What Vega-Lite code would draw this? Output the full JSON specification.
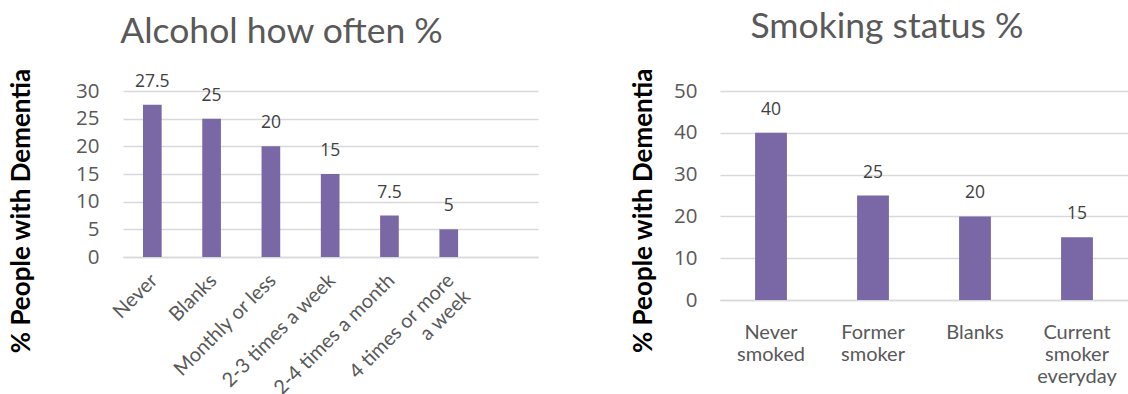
{
  "$schema": "https://vega.github.io/schema/vega-lite/v6.json",
  "background": "white",
  "padding": {"left": 8, "top": 9, "right": 0, "bottom": 0},
  "spacing": 92,
  "config": {
    "view": {"stroke": null},
    "font": "Lato",
    "title": {"font": "Lato", "fontSize": 35.5, "fontWeight": "normal", "color": "#595959", "frame": "group", "anchor": "middle", "baseline": "alphabetic"},
    "axis": {"labelFont": "Lato", "titleFont": "Lato", "labelColor": "#595959", "titleColor": "#000000"}
  },
  "datasets": {
    "alcohol": [
      {"category": "Never", "pct": 27.5},
      {"category": "Blanks", "pct": 25},
      {"category": "Monthly or less", "pct": 20},
      {"category": "2-3 times a week", "pct": 15},
      {"category": "2-4 times a month", "pct": 7.5},
      {"category": "4 times or more a week", "pct": 5}
    ],
    "smoking": [
      {"category": "Never smoked", "pct": 40},
      {"category": "Former smoker", "pct": 25},
      {"category": "Blanks", "pct": 20},
      {"category": "Current smoker everyday", "pct": 15}
    ]
  },
  "hconcat": [
    {
      "title": {"text": "Alcohol how often %", "dx": -49, "offset": 17.5},
      "width": 415,
      "height": 166,
      "data": {"name": "alcohol"},
      "encoding": {
        "x": {
          "field": "category",
          "type": "nominal",
          "sort": null,
          "scale": {"paddingInner": 0.685, "paddingOuter": 0.8425, "align": 0.2},
          "axis": {
            "title": null,
            "labelAngle": -45,
            "labelFontSize": 20,
            "labelPadding": 13,
            "labelOffset": -5,
            "labelLineHeight": 23,
            "ticks": false,
            "domainColor": "#D9D9D9",
            "domainWidth": 1.5,
            "labelExpr": "datum.label == '4 times or more a week' ? ['4 times or more', 'a week'] : datum.label"
          }
        },
        "y": {
          "field": "pct",
          "type": "quantitative",
          "scale": {"domain": [0, 30], "nice": false},
          "axis": {
            "title": "% People with Dementia",
            "titleFontSize": 26,
            "titleFontWeight": "bold",
            "titlePadding": 41,
            "titleY": 119.5,
            "values": [0, 5, 10, 15, 20, 25, 30],
            "labelFont": "Open Sans",
            "labelFontSize": 20.5,
            "labelPadding": 24,
            "ticks": false,
            "domain": false,
            "gridColor": "#D9D9D9",
            "gridWidth": 1.5
          }
        }
      },
      "layer": [
        {"mark": {"type": "bar", "color": "#7A67A5"}},
        {
          "mark": {"type": "text", "dy": -18, "baseline": "alphabetic", "fontSize": 17.5, "color": "#404040", "font": "Open Sans"},
          "encoding": {"text": {"field": "pct", "type": "quantitative"}}
        }
      ]
    },
    {
      "title": {"text": "Smoking status %", "dx": -37, "offset": 22.7},
      "width": 408,
      "height": 209,
      "data": {"name": "smoking"},
      "encoding": {
        "x": {
          "field": "category",
          "type": "nominal",
          "sort": null,
          "scale": {"paddingInner": 0.688, "paddingOuter": 0.344},
          "axis": {
            "title": null,
            "labelAngle": 0,
            "labelFontSize": 20,
            "labelPadding": 22,
            "labelLineHeight": 22,
            "labelBaseline": "top",
            "ticks": false,
            "domainColor": "#D9D9D9",
            "domainWidth": 1.5,
            "labelExpr": "split(datum.label, ' ')"
          }
        },
        "y": {
          "field": "pct",
          "type": "quantitative",
          "scale": {"domain": [0, 50], "nice": false},
          "axis": {
            "title": "% People with Dementia",
            "titleFontSize": 26,
            "titleFontWeight": "bold",
            "titlePadding": 17,
            "titleY": 119.3,
            "values": [0, 10, 20, 30, 40, 50],
            "labelFont": "Open Sans",
            "labelFontSize": 20.5,
            "labelPadding": 23,
            "ticks": false,
            "domain": false,
            "gridColor": "#D9D9D9",
            "gridWidth": 1.5
          }
        }
      },
      "layer": [
        {"mark": {"type": "bar", "color": "#7A67A5"}},
        {
          "mark": {"type": "text", "dy": -18, "baseline": "alphabetic", "fontSize": 17.5, "color": "#404040", "font": "Open Sans"},
          "encoding": {"text": {"field": "pct", "type": "quantitative"}}
        }
      ]
    }
  ]
}
